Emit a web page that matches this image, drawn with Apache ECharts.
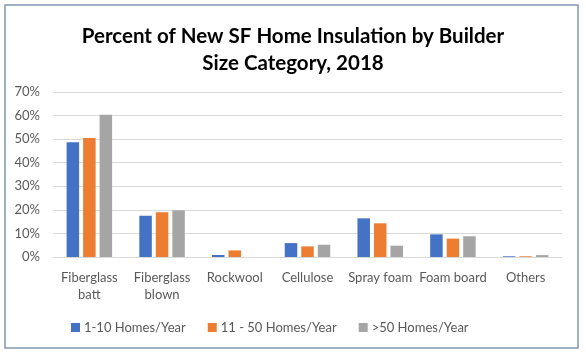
<!DOCTYPE html>
<html><head><meta charset="utf-8">
<script src="https://cdn.jsdelivr.net/npm/echarts@6/dist/echarts.min.js"></script>
<style>html,body{margin:0;padding:0;background:#fff}#c{width:586px;height:356px}</style>
</head><body><div id="c"></div>
<script>
const categories = ['Fiberglass\nbatt','Fiberglass\nblown','Rockwool','Cellulose','Spray foam','Foam board','Others'];
const seriesNames = ['1-10 Homes/Year','11 - 50 Homes/Year','>50 Homes/Year'];
const small = [48.7, 17.5, 0.85, 5.9, 16.4, 9.6, 0.3];
const medium = [50.5, 19.0, 2.8, 4.5, 14.3, 7.8, 0.3];
const large = [60.3, 19.8, 0, 5.2, 4.8, 8.8, 0.8];
const colors = ['#4472C4','#ED7D31','#A5A5A5'];
const yTicks = [0,10,20,30,40,50,60,70];
const FONT = 'Lato';
const chart = echarts.init(document.getElementById('c'));
const mk = (name, data, i) => ({
  name, type:'bar', data, barWidth:12.5, barGap:'32%',
  itemStyle:{color:colors[i]}
});
chart.setOption({
  animation:false,
  textStyle:{fontFamily:FONT},
  title:{
    text:'Percent of New SF Home Insulation by Builder\nSize Category, 2018',
    left:'center', top:18,
    textStyle:{fontFamily:FONT, fontWeight:'bold', fontSize:20.5, color:'#000', lineHeight:27}
  },
  legend:{
    bottom:17, left:66, itemWidth:9, itemHeight:9, itemGap:22, itemStyle:{borderWidth:0},
    icon:'rect',
    textStyle:{fontFamily:FONT, fontSize:13, color:'#595959', padding:[0,0,0,-1]},
    data:seriesNames
  },
  grid:{left:53, right:24, top:92, bottom:99},
  xAxis:{
    type:'category', data:categories,
    axisLine:{lineStyle:{color:'#D9D9D9'}},
    axisTick:{show:false},
    axisLabel:{fontFamily:FONT, fontSize:13, color:'#595959', lineHeight:17, margin:12, interval:0}
  },
  yAxis:{
    type:'value', min:yTicks[0], max:yTicks[yTicks.length-1], interval:10,
    axisLine:{show:false}, axisTick:{show:false},
    splitLine:{lineStyle:{color:'#D9D9D9'}},
    axisLabel:{fontFamily:FONT, fontSize:13, color:'#595959', formatter:v=>v+'%', margin:13}
  },
  series:[mk(seriesNames[0],small,0), mk(seriesNames[1],medium,1), mk(seriesNames[2],large,2)],
  graphic:[{type:'rect', shape:{x:5,y:5,width:573,height:343}, style:{fill:'none', stroke:'#8497B0', lineWidth:1.5}, silent:true}]
});
</script></body></html>
